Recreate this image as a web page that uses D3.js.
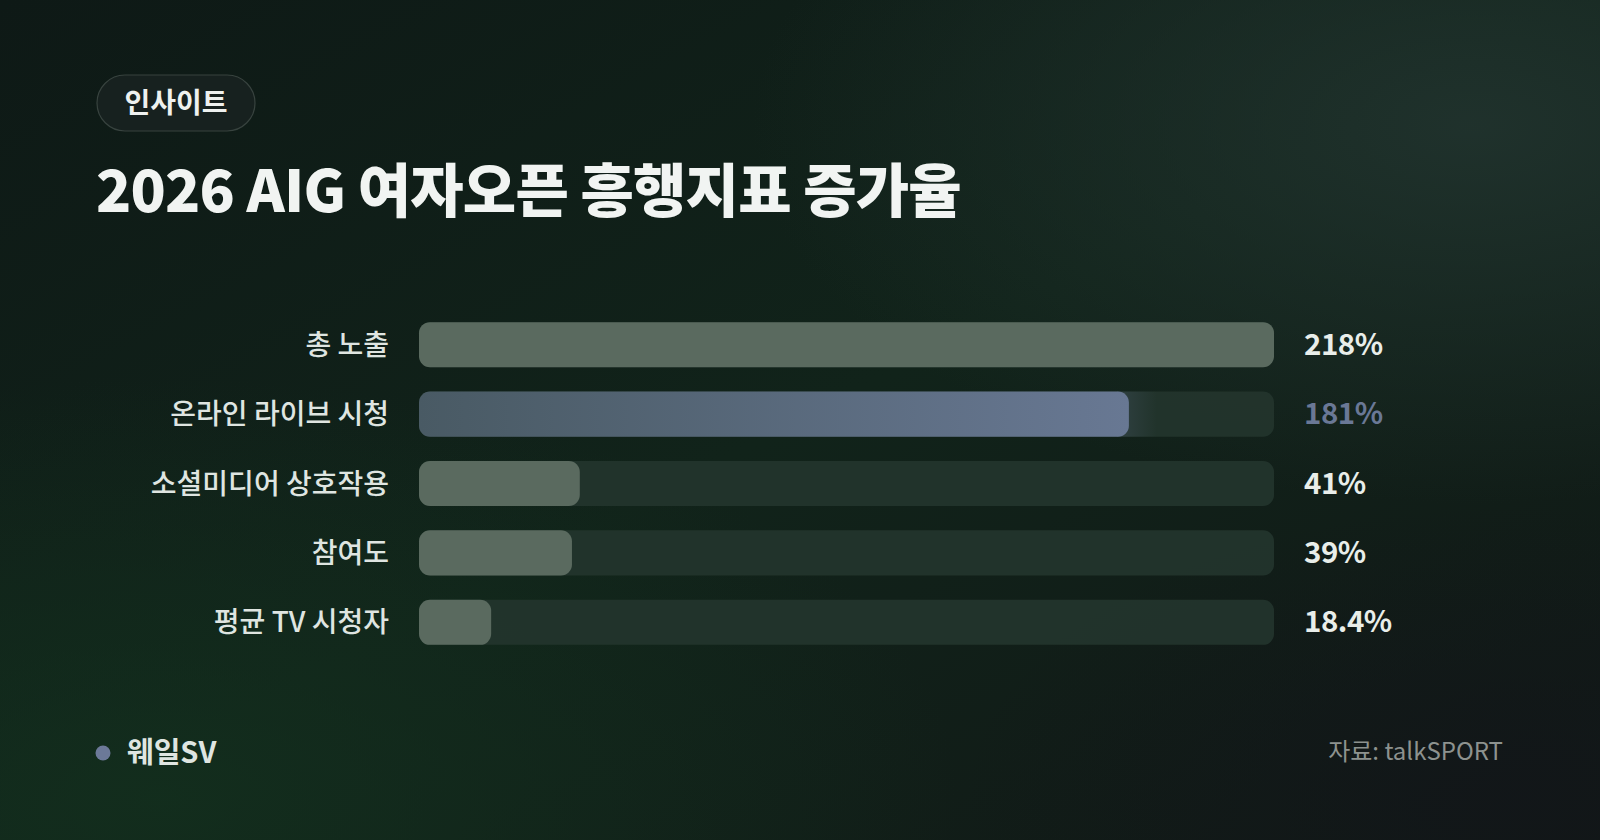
<!DOCTYPE html>
<html><head><meta charset="utf-8">
<script src="https://cdn.jsdelivr.net/npm/d3@7/dist/d3.min.js"></script>
<style>
html,body{margin:0;padding:0;background:#0f1c17;}
svg{display:block;font-family:"Noto Sans CJK KR","Noto Sans",sans-serif;}
</style></head><body>
<svg id="c" width="1600" height="840"></svg>
<script>
const categories = ["총 노출", "온라인 라이브 시청", "소셜미디어 상호작용", "참여도", "평균 TV 시청자"];
const values = [218, 181, 41, 39, 18.4];
const valueLabels = ["218%", "181%", "41%", "39%", "18.4%"];
const highlight = "온라인 라이브 시청";

const svg = d3.select("#c");
const W = 1600, H = 840;
const defs = svg.append("defs");

// background
const bg = defs.append("linearGradient").attr("id","bg").attr("x1","0").attr("y1","0").attr("x2","1").attr("y2","1");
bg.append("stop").attr("offset","0").attr("stop-color","#0e1916");
bg.append("stop").attr("offset","0.5").attr("stop-color","#11231a");
bg.append("stop").attr("offset","1").attr("stop-color","#111816");
svg.append("rect").attr("width",W).attr("height",H).attr("fill","url(#bg)");

const g1 = defs.append("radialGradient").attr("id","glow1").attr("cx","0.92").attr("cy","0.15").attr("r","0.45");
g1.append("stop").attr("offset","0").attr("stop-color","#21332e").attr("stop-opacity",0.9);
g1.append("stop").attr("offset","1").attr("stop-color","#21332e").attr("stop-opacity",0);
svg.append("rect").attr("width",W).attr("height",H).attr("fill","url(#glow1)");

const g2 = defs.append("radialGradient").attr("id","glow2").attr("cx","0.1").attr("cy","0.95").attr("r","0.5");
g2.append("stop").attr("offset","0").attr("stop-color","#13301e").attr("stop-opacity",0.8);
g2.append("stop").attr("offset","1").attr("stop-color","#13301e").attr("stop-opacity",0);
svg.append("rect").attr("width",W).attr("height",H).attr("fill","url(#glow2)");

const g3 = defs.append("radialGradient").attr("id","glow3").attr("cx","0.95").attr("cy","0.95").attr("r","0.35");
g3.append("stop").attr("offset","0").attr("stop-color","#121619").attr("stop-opacity",0.9);
g3.append("stop").attr("offset","1").attr("stop-color","#121619").attr("stop-opacity",0);
svg.append("rect").attr("width",W).attr("height",H).attr("fill","url(#glow3)");

// pill
svg.append("rect").attr("x",97).attr("y",75).attr("width",158).attr("height",56).attr("rx",28)
  .attr("fill","#17211f").attr("stroke","#38433f").attr("stroke-width",1.2);
svg.append("text").attr("x",176).attr("y",113).attr("text-anchor","middle")
  .attr("font-size",28).attr("font-weight",700).attr("fill","#eef1ef").text("인사이트");

// title
svg.append("text").attr("x",96).attr("y",212).attr("font-size",58).attr("font-weight",800)
  .attr("fill","#f1f4f2").attr("letter-spacing","-0.8").text("2026 AIG 여자오픈 흥행지표 증가율");

// scales
const x = d3.scaleLinear().domain([0, d3.max(values)]).range([419, 1274]);
const y = d3.scaleBand().domain(categories).range([310, 657]).paddingInner(0.35).paddingOuter(0.175);

const hg = defs.append("linearGradient").attr("id","hl").attr("x1","0").attr("x2","1");
hg.append("stop").attr("offset","0").attr("stop-color","#495a64");
hg.append("stop").attr("offset","1").attr("stop-color","#687893");

const fade = defs.append("linearGradient").attr("id","fade").attr("x1","0").attr("x2","1");
fade.append("stop").attr("offset","0").attr("stop-color","#3a4a52").attr("stop-opacity",0.6);
fade.append("stop").attr("offset","1").attr("stop-color","#3a4a52").attr("stop-opacity",0);

const rows = svg.append("g").selectAll("g").data(categories).join("g");

rows.append("rect").attr("x",x(0)).attr("y",d=>y(d)).attr("width",x.range()[1]-x(0))
  .attr("height",y.bandwidth()).attr("rx",11).attr("fill","#24352d").attr("fill-opacity",0.9);

rows.filter(d=>d===highlight).append("rect")
  .attr("x",(d,i)=>x(values[categories.indexOf(d)])-12).attr("y",d=>y(d))
  .attr("width",40).attr("height",y.bandwidth()).attr("fill","url(#fade)");

rows.append("rect").attr("x",x(0)).attr("y",d=>y(d))
  .attr("width",(d,i)=>x(values[i])-x(0)).attr("height",y.bandwidth()).attr("rx",11)
  .attr("fill",d=>d===highlight?"url(#hl)":"#5a6a5f");

rows.append("text").attr("x",389).attr("y",d=>y(d)+y.bandwidth()/2+10).attr("text-anchor","end")
  .attr("font-size",28).attr("font-weight",500).attr("fill","#dfe5e1").text(d=>d);

rows.append("text").attr("x",1304).attr("y",d=>y(d)+y.bandwidth()/2+10)
  .attr("font-size",29.5).attr("font-weight",700).attr("letter-spacing","-0.5")
  .attr("fill",d=>d===highlight?"#6a7896":"#e9eeea").text((d,i)=>valueLabels[i]);

// footer
svg.append("circle").attr("cx",103).attr("cy",753).attr("r",7.5).attr("fill","#6c7998");
svg.append("text").attr("x",127).attr("y",763).attr("font-size",29).attr("font-weight",700)
  .attr("fill","#dfe5e1").text("웨일SV");
svg.append("text").attr("x",1503).attr("y",760).attr("text-anchor","end").attr("font-size",24)
  .attr("font-weight",400).attr("fill","#8d928f").text("자료: talkSPORT");
</script></body></html>
